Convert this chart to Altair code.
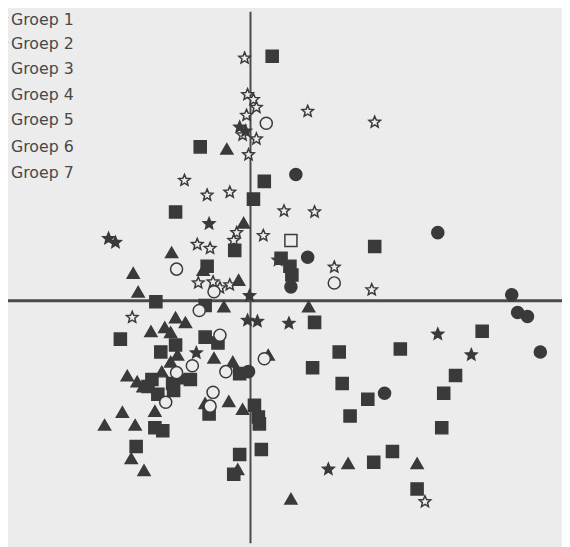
import altair as alt
import pandas as pd

groups = ["Groep 1", "Groep 2", "Groep 3", "Groep 4", "Groep 5", "Groep 6", "Groep 7"]

# Groep 1 (open star)
g1_x = [-0.06, -0.03, 0.03, 0.06, 0.58, 1.26, -0.04, -0.08, 0.06, -0.02, -0.67, -0.44, -0.21,
        0.34, 0.65, -0.14, 0.13, -0.54, -0.41, -0.17, 0.28, 0.85, 1.23, -0.53, -0.38, -0.31,
        -0.21, -1.20, 1.77]
g1_y = [2.46, 2.09, 2.04, 1.96, 1.92, 1.81, 1.88, 1.68, 1.64, 1.48, 1.22, 1.07, 1.10,
        0.91, 0.90, 0.69, 0.66, 0.57, 0.53, 0.61, 0.41, 0.34, 0.11, 0.18, 0.19, 0.13,
        0.16, -0.17, -2.04]
# Groep 2 (filled star)
g2_x = [-0.11, -0.05, -0.42, -1.44, -1.37, -0.01, -0.03, 0.07, 0.39, 1.90, 2.24, -0.55, 0.79]
g2_y = [1.76, 1.72, 0.78, 0.63, 0.59, 0.05, -0.20, -0.21, -0.23, -0.34, -0.55, -0.53, -1.71]
# Groep 3 (filled square)
g3_x = [0.22, -0.51, 0.14, 0.03, -0.76, -0.16, 1.26, 0.31, 0.40, 0.42, -0.44, -0.96, -0.46,
        0.65, 2.35, -1.32, -0.46, -0.33, -0.76, -0.91, 0.90, 1.52, 0.63, 2.08, 0.93, 1.96,
        1.19, 1.01, 1.94, 1.44, 1.25, 1.69, -0.11, -1.00, -1.04, -0.79, -0.78, -0.61, -0.94,
        -0.42, 0.04, 0.08, 0.09, -0.97, -0.89, -1.16, -0.11, 0.11, -0.17]
g3_y = [2.48, 1.56, 1.21, 1.03, 0.90, 0.51, 0.55, 0.43, 0.35, 0.26, 0.35, -0.01, -0.05,
        -0.22, -0.31, -0.39, -0.37, -0.43, -0.45, -0.52, -0.52, -0.49, -0.68, -0.76, -0.84, -0.94,
        -1.00, -1.17, -1.29, -1.53, -1.64, -1.91, -0.74, -0.80, -0.87, -0.84, -0.91, -0.80, -0.95,
        -1.15, -1.06, -1.18, -1.25, -1.29, -1.32, -1.48, -1.56, -1.51, -1.76]
# Groep 4 (filled triangle)
g4_x = [-0.24, -0.07, -0.80, -1.19, -1.14, -0.48, -0.12, -0.27, 0.59, -0.76, -0.66, -0.87,
        -1.01, -0.81, -0.74, -0.37, -0.81, -0.18, -0.90, -1.25, -1.15, -1.09, -0.69, -0.22,
        -0.46, -0.08, -1.30, -0.97, -1.48, -1.17, -1.21, -1.08, -0.13, 0.18, 0.41, 0.99, 1.69]
g4_y = [1.54, 0.79, 0.49, 0.28, 0.09, 0.31, 0.21, -0.06, -0.06, -0.17, -0.22, -0.27,
        -0.31, -0.32, -0.55, -0.58, -0.62, -0.62, -0.72, -0.76, -0.82, -0.87, -0.79, -1.02,
        -1.04, -1.10, -1.13, -1.12, -1.26, -1.26, -1.60, -1.72, -1.71, -0.55, -2.01, -1.65, -1.65]
# Groep 5 (open circle)
g5_x = [0.16, -0.75, -0.37, 0.85, -0.52, -0.31, -0.59, -0.75, -0.25, -0.38, -0.86, -0.41, 0.14]
g5_y = [1.80, 0.32, 0.09, 0.18, -0.10, -0.35, -0.66, -0.73, -0.72, -0.93, -1.03, -1.07, -0.59]
# Groep 6 (filled circle)
g6_x = [0.46, 1.90, 0.58, 0.41, 2.65, 2.71, 2.81, 2.94, 1.36, -0.02]
g6_y = [1.28, 0.69, 0.44, 0.14, 0.06, -0.12, -0.16, -0.52, -0.94, -0.72]
# Groep 7 (open square)
g7_x = [0.41]
g7_y = [0.61]

axis_origin = [0.0]

xs_all = [g1_x, g2_x, g3_x, g4_x, g5_x, g6_x, g7_x]
ys_all = [g1_y, g2_y, g3_y, g4_y, g5_y, g6_y, g7_y]
frames = [pd.DataFrame({"x": xs, "y": ys, "groep": g}) for g, xs, ys in zip(groups, xs_all, ys_all)]
df = pd.concat(frames, ignore_index=True)

INK = "#3a3a3a"
PAPER = "#ececec"
STAR = ("M0,-1L0.265,-0.364L0.951,-0.309L0.428,0.139L0.588,0.809L0,0.45"
        "L-0.588,0.809L-0.428,0.139L-0.951,-0.309L-0.265,-0.364Z")

x_scale = alt.Scale(domain=[-2.46, 3.16], nice=False, zero=False)
y_scale = alt.Scale(domain=[-2.46, 2.93], nice=False, zero=False)

legend = alt.Legend(orient="none", legendX=-15, legendY=0, title=None,
                    labelFontSize=16, labelFont="DejaVu Sans", labelColor="#484848",
                    rowPadding=7, labelOffset=2, padding=0)

points = alt.Chart(df).mark_point(filled=True, stroke=INK, strokeWidth=1.5,
                                  opacity=1, fillOpacity=1, strokeOpacity=1).encode(
    x=alt.X("x:Q", scale=x_scale, axis=None),
    y=alt.Y("y:Q", scale=y_scale, axis=None),
    shape=alt.Shape("groep:N", scale=alt.Scale(
        domain=groups,
        range=[STAR, STAR, "square", "triangle-up", "circle", "circle", "square"]),
        legend=legend),
    fill=alt.Fill("groep:N", scale=alt.Scale(
        domain=groups, range=[PAPER, INK, INK, INK, PAPER, INK, PAPER]), legend=legend),
    size=alt.Size("groep:N", scale=alt.Scale(
        domain=groups, range=[150, 150, 45, 85, 65, 75, 60]), legend=legend),
)

axes_df = pd.DataFrame({"o": axis_origin})
vline = alt.Chart(axes_df).mark_rule(color="#4a4a4a", strokeWidth=2).encode(
    x=alt.X("o:Q", scale=x_scale, axis=None))
hline = alt.Chart(axes_df).mark_rule(color="#4a4a4a", strokeWidth=3).encode(
    y=alt.Y("o:Q", scale=y_scale, axis=None))

chart = alt.layer(vline, hline, points).properties(
    width=562, height=539,
    autosize=alt.AutoSizeParams(type="none"),
    padding=0,
    background=PAPER,
).configure_view(stroke=None)

chart.save("out.html", embed_options={"renderer": "svg", "actions": False})
